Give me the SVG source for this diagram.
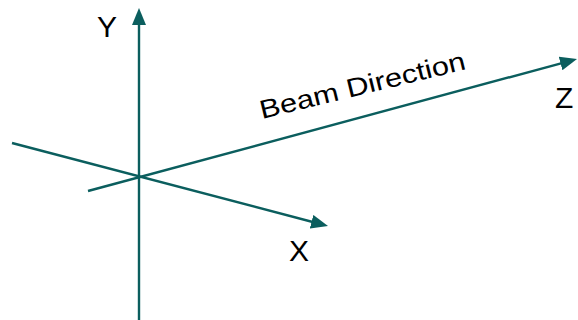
<svg xmlns="http://www.w3.org/2000/svg" width="578" height="320" viewBox="0 0 578 320">
<style>
.axis{stroke:#0b5e5e;stroke-width:2.4;fill:none;marker-end:url(#ah)}
.lbl{font-family:"Liberation Sans",Arial,sans-serif;font-size:30px;fill:#000}
.beam{font-family:"Liberation Sans",Arial,sans-serif;font-size:26px;fill:#000}
</style>
<defs>
<marker id="ah" markerUnits="userSpaceOnUse" viewBox="0 0 17 14" refX="11" refY="7" markerWidth="17" markerHeight="14" orient="auto">
<path d="M0,0 L17,7 L0,14 z" fill="#0b5e5e"/>
</marker>
</defs>
<g id="connectors">
<line id="y-axis" class="axis" x1="139" y1="320" x2="139" y2="14"/>
<line id="x-axis" class="axis" x1="12" y1="143" x2="322.2" y2="224.5"/>
<line id="z-axis" class="axis" x1="88" y1="191" x2="571.2" y2="60.6"/>
</g>
<g id="label-y"><text class="lbl" x="97" y="37">Y</text></g>
<g id="label-x"><text class="lbl" x="289" y="261">X</text></g>
<g id="label-z"><text class="lbl" x="555" y="108">Z</text></g>
<g id="label-beam"><text class="beam" x="262" y="119" transform="rotate(-13.7 262 119)" textLength="211" lengthAdjust="spacingAndGlyphs">Beam Direction</text></g>
</svg>
